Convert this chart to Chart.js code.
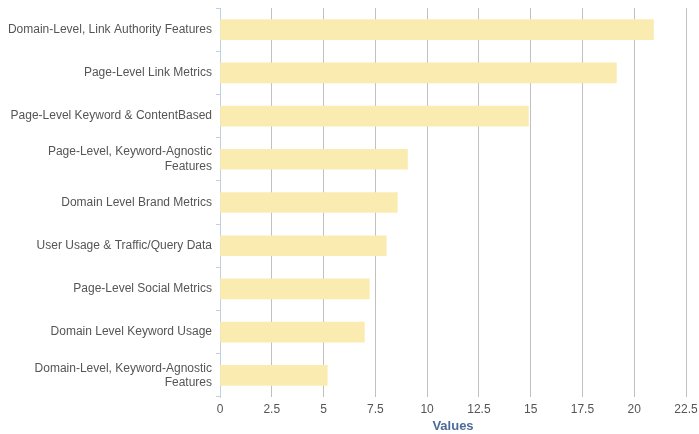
<!DOCTYPE html>
<html>
<head>
<meta charset="utf-8">
<script src="https://cdn.jsdelivr.net/npm/chart.js@4"></script>
<style>
  html, body { margin: 0; padding: 0; background: #fff; }
  #wrap { width: 699px; height: 434px; }
</style>
</head>
<body>
<div id="wrap"><canvas id="chart" width="699" height="434"></canvas></div>
<script>
const categories = [
  "Domain-Level, Link Authority Features",
  "Page-Level Link Metrics",
  "Page-Level Keyword & ContentBased",
  ["Page-Level, Keyword-Agnostic", "Features"],
  "Domain Level Brand Metrics",
  "User Usage & Traffic/Query Data",
  "Page-Level Social Metrics",
  "Domain Level Keyword Usage",
  ["Domain-Level, Keyword-Agnostic", "Features"]
];
const values = [20.93, 19.14, 14.89, 9.05, 8.56, 8.03, 7.21, 6.97, 5.18];
const xTicks = [0, 2.5, 5, 7.5, 10, 12.5, 15, 17.5, 20, 22.5];

const font = "'Liberation Sans', Arial, sans-serif";

new Chart(document.getElementById("chart"), {
  type: "bar",
  data: {
    labels: categories,
    datasets: [{
      label: "Values",
      data: values,
      backgroundColor: "#faecb0",
      barThickness: 20,
    }],
  },
  options: {
    indexAxis: "y",
    responsive: false,
    animation: false,
    layout: { padding: { top: 8, right: 13, left: 0, bottom: 0 } },
    plugins: { legend: { display: false }, tooltip: { enabled: false } },
    scales: {
      x: {
        min: 0,
        max: 22.5,
        afterBuildTicks: axis => { axis.ticks = xTicks.map(v => ({ value: v })); },
        grid: {
          color: ctx => ctx.index === 0 ? "rgba(0,0,0,0)" : "#c0c0c0",
          tickLength: 0,
        },
        border: { display: false },
        ticks: {
          color: "#555",
          font: { family: font, size: 12 },
          padding: 5,
          maxRotation: 0,
        },
        title: {
          display: true,
          text: "Values",
          color: "#4d6d98",
          font: { family: font, size: 13, weight: "bold" },
          padding: { top: 1, bottom: 0 },
        },
        afterFit: scale => {
          scale.height = 37;
          scale.paddingLeft = 0;
          scale.paddingRight = 0;
        },
      },
      y: {
        grid: {
          drawOnChartArea: false,
          color: "#c0d0e0",
          tickLength: 4,
        },
        border: { color: "#c0d0e0" },
        ticks: {
          color: "#555",
          font: { family: font, size: 12 },
          padding: 4,
        },
        afterFit: scale => {
          scale.width = 220;
          scale.paddingTop = 0;
          scale.paddingBottom = 0;
        },
      },
    },
  },
});
</script>
</body>
</html>
